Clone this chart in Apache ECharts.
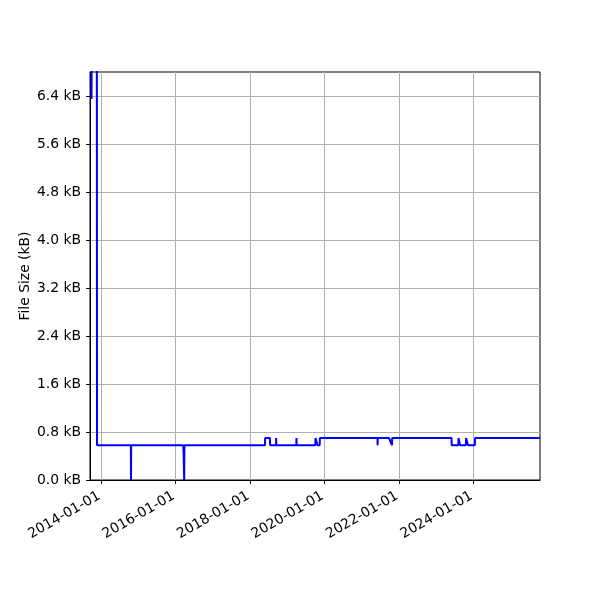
<!DOCTYPE html>
<html>
<head>
<meta charset="utf-8">
<script src="https://cdn.jsdelivr.net/npm/echarts@6/dist/echarts.min.js"></script>
<style>html,body{margin:0;padding:0;background:#fff;}#c{width:600px;height:600px;}</style>
</head>
<body>
<div id="c"></div>
<script>
// Dates of recorded file sizes
const dates = [
  "2013-09-30","2013-10-02","2013-11-21","2013-11-23",
  "2014-10-21","2014-10-22","2014-10-24",
  "2016-03-18","2016-03-21","2016-03-27","2016-03-29",
  "2018-05-28","2018-05-30","2018-07-16","2018-07-18",
  "2018-09-14","2018-09-15","2018-09-17",
  "2019-04-01","2019-04-02","2019-04-04",
  "2019-10-04","2019-10-06","2019-10-24","2019-10-26",
  "2019-11-16","2019-11-18",
  "2021-06-05","2021-06-06","2021-06-08",
  "2021-09-25","2021-10-25","2021-10-27",
  "2023-06-01","2023-06-03",
  "2023-08-07","2023-08-09","2023-08-22","2023-08-24",
  "2023-10-20","2023-10-22","2023-11-08","2023-11-10",
  "2024-01-16","2024-01-18",
  "2025-10-16"
];
// File sizes in kB
const sizes = [
  6.35, 7.4, 7.4, 0.58,
  0.58, 0.0, 0.58,
  0.58, 0.46, 0.0, 0.58,
  0.58, 0.70, 0.70, 0.58,
  0.58, 0.70, 0.58,
  0.58, 0.70, 0.58,
  0.58, 0.70, 0.70, 0.58,
  0.58, 0.70,
  0.70, 0.58, 0.70,
  0.70, 0.58, 0.70,
  0.70, 0.58,
  0.58, 0.70, 0.70, 0.58,
  0.58, 0.70, 0.70, 0.58,
  0.58, 0.70,
  0.70
];
const xTickLabels = ["2014-01-01","2016-01-01","2018-01-01","2020-01-01","2022-01-01","2024-01-01"];
const yTicks = [0, 0.8, 1.6, 2.4, 3.2, 4.0, 4.8, 5.6, 6.4];
const xMinDate = "2013-09-15";
const xMaxDate = "2025-10-16";

const ts = s => Date.parse(s + "T00:00:00Z");
const seriesData = dates.map((d, i) => [ts(d), sizes[i]]);
const xTickValues = xTickLabels.map(ts);
const pad = n => (n < 10 ? "0" : "") + n;
const fmtDate = v => { const d = new Date(v); return d.getUTCFullYear() + "-" + pad(d.getUTCMonth() + 1) + "-" + pad(d.getUTCDate()); };

const font = "DejaVu Sans";
const fs = 13.9;
const chart = echarts.init(document.getElementById('c'), null, {renderer: 'canvas'});
chart.setOption({
  animation: false,
  backgroundColor: '#ffffff',
  grid: {left: 90, right: 60, top: 72, bottom: 120, show: true, borderColor: '#000', borderWidth: 1, backgroundColor: 'transparent'},
  xAxis: {
    type: 'value',
    min: ts(xMinDate), max: ts(xMaxDate),
    axisLine: {show: true, onZero: false, lineStyle: {color: '#000', width: 1}},
    axisTick: {show: true, inside: false, length: 4, lineStyle: {color: '#000'}, customValues: xTickValues},
    axisLabel: {customValues: xTickValues, formatter: v => fmtDate(v), rotate: 30, color: '#000', fontFamily: font, fontSize: fs, margin: 14, padding: [0, 2, 0, 0]},
    splitLine: {show: true, lineStyle: {color: '#b0b0b0', width: 1}}
  },
  yAxis: {
    type: 'value', min: 0, max: 6.8,
    name: 'File Size (kB)', nameLocation: 'middle', nameGap: 58, nameRotate: 90, nameMoveOverlap: false,
    nameTextStyle: {color: '#000', fontFamily: font, fontSize: fs},
    axisLine: {show: true, lineStyle: {color: '#000', width: 1}},
    axisTick: {show: true, inside: false, length: 4, lineStyle: {color: '#000'}, customValues: yTicks},
    axisLabel: {customValues: yTicks, formatter: v => v.toFixed(1) + ' kB', color: '#000', fontFamily: font, fontSize: fs, margin: 9},
    splitLine: {show: true, lineStyle: {color: '#b0b0b0', width: 1}}
  },
  series: [{
    type: 'line', data: seriesData, showSymbol: false, symbol: 'none',
    lineStyle: {color: '#0000ff', width: 2}, clip: true
  }]
});
</script>
</body>
</html>
